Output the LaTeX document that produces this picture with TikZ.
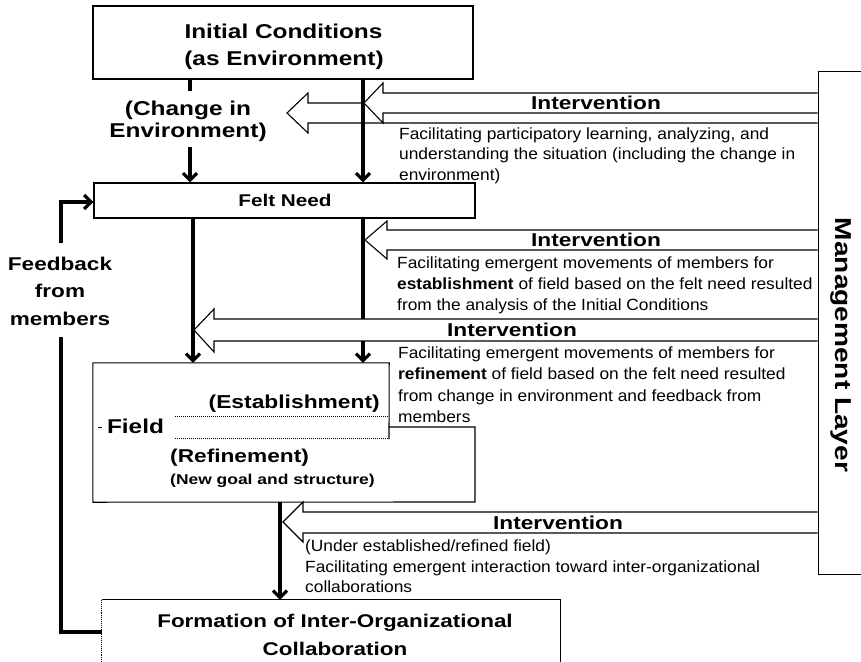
\documentclass[tikz,border=0pt]{standalone}
\usepackage{fontspec}
\usetikzlibrary{arrows.meta}
\newfontfamily\hv{Liberation Sans}[FakeStretch=1.22]
\newfontfamily\hn{Liberation Sans}[FakeStretch=1.07]
\tikzset{
  bx/.style={draw, line width=1.1pt},
  thickln/.style={line width=3.2pt},
  flow/.style={line width=3.2pt, -{Straight Barb[length=7pt,width=14pt]}},
  hollow/.style={draw, line width=1.1pt, line join=miter},
  lab/.style={inner sep=0pt, anchor=base},
  hd/.style={lab, font=\hv\bfseries\fontsize{#1}{#1}\selectfont},
  sm/.style={inner sep=0pt, anchor=base west, font=\hn\fontsize{16.2}{20}\selectfont},
}
\begin{document}
\begin{tikzpicture}[x=1pt, y=-1pt]
\useasboundingbox (0,0) rectangle (861,661);
\clip (0,0) rectangle (861,661);
\fill[white] (0,0) rectangle (861,661);

% boxes
\node[bx, minimum width=380pt, minimum height=73pt, inner sep=0pt] (ic) at (283,42.5) {};
\node[bx, minimum width=381pt, minimum height=35pt, inner sep=0pt] (fn) at (284.5,200.5) {};
\node[minimum width=296pt, minimum height=139pt, inner sep=0pt] (fd) at (241,432.5) {};
\node[minimum width=458pt, minimum height=80pt, inner sep=0pt] (fm) at (331,640) {};
\node[draw, line width=0.9pt, minimum width=62pt, minimum height=503pt, inner sep=0pt] (mg) at (849,322.5) {};

% field outline with its establishment / refinement strip
\draw[bx, line join=miter] (389,439) -- (fd.north east) -- (fd.north west) -- (fd.south west)
  -- (475,502) -- (475,427) -- (389,427);
\draw[line width=1pt, densely dotted] (175,416) -- (389,416);
\draw[line width=1pt, densely dotted] (175,438) -- (389,438);
\draw[line width=0.8pt] (98,427) -- (102,427);

% formation box, open at the bottom edge of the page
\draw[bx] (fm.north west) -- (fm.north east) -- (fm.south east);
\draw[line width=1.1pt, densely dotted] (fm.north west) -- (fm.south west);

% intervention arrows from the management layer
\draw[hollow] (mg.west |- 0,93) -- (383,93) -- (383,83) -- (364,103) -- (383,123) -- (383,113) -- (mg.west |- 0,113);
\draw[hollow] (363,103) -- (308,103) -- (308,93) -- (287,113) -- (308,133) -- (308,123) -- (mg.west |- 0,123);
\draw[hollow] (mg.west |- 0,230) -- (387,230) -- (387,221) -- (365,240) -- (387,259) -- (387,250) -- (mg.west |- 0,250);
\draw[hollow] (mg.west |- 0,319) -- (214,319) -- (214,309) -- (194,330) -- (214,352) -- (214,341) -- (mg.west |- 0,341);
\draw[hollow] (mg.west |- 0,512) -- (303,512) -- (303,502) -- (283,522) -- (303,542) -- (303,533) -- (mg.west |- 0,533);

% flow connectors
\coordinate (xL) at (190,0);
\coordinate (xR) at (363,0);
\coordinate (xA) at (193,0);
\coordinate (xB) at (280,0);
\draw[thickln] (ic.south -| xL) -- ++(0,11);
\draw[flow] (190,147) -- (fn.north -| xL);
\draw[flow] (ic.south -| xR) -- (fn.north -| xR);
\draw[flow] (fn.south -| xA) -- (fd.north -| xA);
\draw[thickln] (fn.south -| xR) -- (363,319);
\draw[flow] (363,341) -- (fd.north -| xR);
\draw[flow] (fd.south -| xB) -- (fm.north -| xB);
\draw[thickln, line join=miter] (fm.west |- 0,632) -- (61,632) -- (61,337);
\draw[flow, line join=miter] (61,243) -- (61,202) -- (fn.west |- 0,202);

% headings
\node[hd=20] (ic1) at (283.5,38) {Initial Conditions};
\node[hd=20] (ic2) at (284,65.5) {(as Environment)};
\node[hd=20] (ce1) at (188,115) {(Change in};
\node[hd=20] (ce2) at (188,137) {Environment)};
\node[hd=17] (fnl) at (285,206) {Felt Need};
\node[hd=18.5] (fb1) at (60,270) {Feedback};
\node[hd=18.5] (fb2) at (60,297) {from};
\node[hd=18.5] (fb3) at (60,325) {members};
\node[hd=20] (fl) at (135.5,433) {Field};
\node[hd=18.7, anchor=base east] (es) at (380,408) {(Establishment)};
\node[hd=18.6, anchor=base west] (rf) at (170,462) {(Refinement)};
\node[hd=14.3, anchor=base west] (ng) at (170,484) {(New goal and structure)};
\node[hd=18.4] (fm1) at (335,627) {Formation of Inter-Organizational};
\node[hd=18.4] (fm2) at (335,655) {Collaboration};
\node[hd=23, rotate=-90, anchor=center] (ml) at (841,345) {Management Layer};

% intervention labels
\node[hd=18.6] (iv1) at (596,109.7) {Intervention};
\node[hd=18.6] (iv2) at (596,246.7) {Intervention};
\node[hd=18.6] (iv3) at (512,336.7) {Intervention};
\node[hd=18.6] (iv4) at (558,529) {Intervention};

% intervention descriptions
\node[sm] (d1a) at (399,139) {Facilitating participatory learning, analyzing, and};
\node[sm] (d1b) at (399,159.5) {understanding the situation (including the change in};
\node[sm] (d1c) at (399,180) {environment)};
\node[sm] (d2a) at (397,268) {Facilitating emergent movements of members for};
\node[sm] (d2b) at (397,289) {\textbf{establishment} of field based on the felt need resulted};
\node[sm] (d2c) at (397,310) {from the analysis of the Initial Conditions};
\node[sm] (d3a) at (398,358) {Facilitating emergent movements of members for};
\node[sm] (d3b) at (398,379.5) {\textbf{refinement} of field based on the felt need resulted};
\node[sm] (d3c) at (398,401) {from change in environment and feedback from};
\node[sm] (d3d) at (398,422) {members};
\node[sm] (d4a) at (305,551) {(Under established/refined field)};
\node[sm] (d4b) at (305,572) {Facilitating emergent interaction toward inter-organizational};
\node[sm] (d4c) at (305,592) {collaborations};
\end{tikzpicture}
\end{document}
